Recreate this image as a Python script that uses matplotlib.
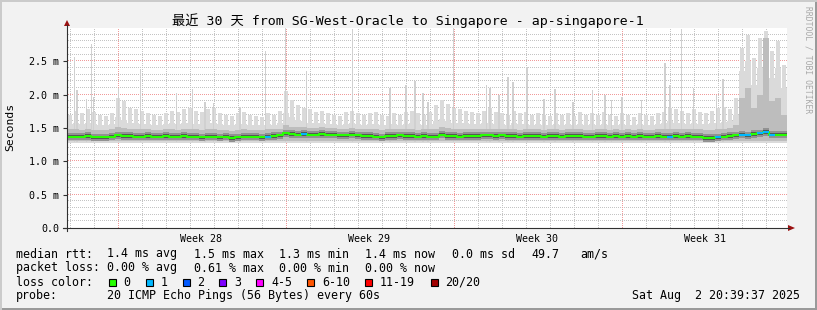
import matplotlib
matplotlib.use('Agg')
import matplotlib.pyplot as plt
import numpy as np
from matplotlib.patches import Rectangle, Polygon
from matplotlib.lines import Line2D

# ---------------- data (hours since window start, 6-hour bins) ----------------
median_ms = [
 1.37,1.37,1.37,1.38,1.36,1.36,1.36,1.37,1.39,1.38,
 1.38,1.37,1.37,1.38,1.37,1.37,1.38,1.37,1.37,1.38,
 1.37,1.37,1.36,1.37,1.37,1.36,1.37,1.35,1.36,1.37,
 1.37,1.37,1.36,1.37,1.38,1.39,1.42,1.41,1.40,1.41,
 1.40,1.40,1.41,1.40,1.40,1.39,1.39,1.40,1.39,1.38,
 1.38,1.37,1.36,1.38,1.38,1.39,1.38,1.38,1.37,1.38,
 1.37,1.37,1.40,1.38,1.38,1.37,1.38,1.38,1.38,1.39,
 1.39,1.38,1.39,1.38,1.38,1.37,1.38,1.38,1.38,1.37,
 1.38,1.38,1.37,1.38,1.38,1.38,1.37,1.37,1.38,1.38,
 1.37,1.38,1.37,1.38,1.37,1.38,1.37,1.37,1.38,1.37,
 1.37,1.38,1.37,1.38,1.37,1.37,1.35,1.35,1.36,1.37,
 1.38,1.39,1.40,1.39,1.41,1.42,1.44,1.40,1.40,1.40]

loss_count = [0]*120
for _i in (33, 39, 100, 108, 112, 113, 115, 116, 117):
    loss_count[_i] = 1

smoke_mid = [
 1.48,1.48,1.47,1.48,1.47,1.47,1.47,1.48,1.52,1.50,
 1.49,1.48,1.48,1.48,1.47,1.47,1.48,1.48,1.47,1.48,
 1.48,1.48,1.47,1.48,1.48,1.47,1.47,1.46,1.47,1.48,
 1.47,1.47,1.47,1.48,1.48,1.49,1.55,1.52,1.51,1.51,
 1.50,1.50,1.51,1.50,1.50,1.49,1.49,1.50,1.49,1.48,
 1.48,1.48,1.47,1.48,1.48,1.49,1.48,1.48,1.47,1.48,
 1.48,1.49,1.52,1.50,1.49,1.48,1.48,1.48,1.48,1.49,
 1.49,1.48,1.49,1.48,1.48,1.47,1.48,1.48,1.48,1.47,
 1.48,1.48,1.47,1.48,1.48,1.48,1.47,1.47,1.48,1.48,
 1.47,1.48,1.47,1.48,1.47,1.48,1.47,1.47,1.48,1.48,
 1.49,1.49,1.48,1.48,1.48,1.48,1.47,1.47,1.48,1.49,
 1.50,1.55,1.95,2.10,1.80,2.00,2.85,1.90,1.95,1.70]

smoke_p90 = [
 1.56,1.57,1.56,1.58,1.56,1.55,1.55,1.56,1.66,1.62,
 1.58,1.57,1.56,1.56,1.55,1.55,1.56,1.57,1.56,1.57,
 1.58,1.56,1.56,1.57,1.58,1.56,1.55,1.55,1.56,1.56,
 1.55,1.55,1.54,1.56,1.55,1.57,1.72,1.66,1.62,1.60,
 1.58,1.57,1.58,1.56,1.56,1.55,1.56,1.57,1.56,1.55,
 1.56,1.56,1.55,1.55,1.56,1.55,1.56,1.57,1.56,1.55,
 1.56,1.60,1.64,1.60,1.58,1.58,1.57,1.56,1.56,1.57,
 1.58,1.56,1.56,1.55,1.57,1.56,1.56,1.55,1.56,1.55,
 1.55,1.56,1.55,1.56,1.55,1.56,1.55,1.56,1.55,1.56,
 1.55,1.55,1.56,1.55,1.54,1.56,1.55,1.55,1.56,1.57,
 1.60,1.58,1.57,1.56,1.58,1.56,1.56,1.57,1.58,1.59,
 1.60,1.70,2.35,2.50,2.15,2.40,2.70,2.25,2.40,2.10]

smoke_max = [
 1.70,1.75,1.72,1.78,1.74,1.70,1.68,1.72,1.95,1.90,
 1.80,1.78,1.75,1.72,1.70,1.68,1.72,1.76,1.74,1.78,
 1.80,1.76,1.74,1.78,1.80,1.72,1.70,1.68,1.72,1.74,
 1.70,1.68,1.66,1.72,1.70,1.76,2.05,1.92,1.85,1.80,
 1.78,1.74,1.76,1.72,1.70,1.68,1.74,1.76,1.72,1.70,
 1.72,1.74,1.70,1.68,1.72,1.70,1.74,1.76,1.72,1.70,
 1.74,1.85,1.92,1.86,1.80,1.78,1.76,1.74,1.72,1.76,
 1.80,1.74,1.72,1.70,1.76,1.72,1.74,1.70,1.72,1.70,
 1.68,1.72,1.70,1.72,1.68,1.74,1.70,1.72,1.70,1.74,
 1.70,1.68,1.72,1.70,1.66,1.72,1.70,1.68,1.72,1.74,
 1.80,1.78,1.76,1.72,1.78,1.74,1.72,1.76,1.80,1.82,
 1.78,1.95,2.70,2.90,2.55,2.85,2.95,2.65,2.80,2.45]

SMOKE_FLOOR = 1.29

spike_hours = [7.3,10,19.7,24.7,26.3,51.3,73.7,109.7,125.7,138,146.3,173,198.7,218.7,
               239.7,285.3,323,339,348,356,361,386.3,419.7,423,432,441,446,460,477,488,
               506,525.7,538,544.7,555,574.7,598,603,614.3,626.3,649.7,656]
spike_ms = [2.56,2.07,1.93,2.76,1.97,2.10,2.38,2.02,2.08,1.89,1.87,1.82,2.65,3.0,
            2.35,2.99,2.10,2.14,2.20,2.02,1.89,3.0,2.15,2.10,2.0,2.26,2.19,2.42,1.94,2.09,
            1.89,2.07,2.0,1.92,1.97,1.92,2.48,2.15,2.98,2.10,2.0,2.24]

week_labels = ['Week 28', 'Week 29', 'Week 30', 'Week 31']
week_starts = [50.5, 218.5, 386.5, 554.5]
ytick_vals = [0.0, 0.5, 1.0, 1.5, 2.0, 2.5]
ytick_labels = ['0.0', '0.5 m', '1.0 m', '1.5 m', '2.0 m', '2.5 m']

loss_labels = ['0', '1', '2', '3', '4-5', '6-10', '11-19', '20/20']
loss_colors = ['#26ff00', '#00b8ff', '#0059ff', '#7e00ff', '#ff00ff', '#ff5500', '#ff0000', '#a10000']

title = '最近 30 天 from SG-West-Oracle to Singapore - ap-singapore-1'

# ---------------- figure ----------------
W, H = 817, 310
fig = plt.figure(figsize=(W/100, H/100), dpi=100, facecolor='#f2f2f2')

def fx(px):
    return px / W

def fy(py):
    return 1 - py / H

MONO = ['DejaVu Sans Mono', 'Noto Sans CJK SC']

ax = fig.add_axes([fx(67), fy(228), 720 / W, 200 / H])
ax.set_facecolor('white')
ax.set_xlim(0, 720)
ax.set_ylim(0, 3.0)
for s in ax.spines.values():
    s.set_visible(False)

# grid drawn as 1-pixel dots every other pixel
MINOR_C, MAJOR_C = '#c4c4c4', '#f09a9a'
gx = np.arange(0.5, 720, 2.0)
for k in range(1, 30):
    v = k / 10
    major = (k % 5 == 0)
    ax.plot(gx, np.full_like(gx, v), ',', color=MAJOR_C if major else MINOR_C, zorder=0.5)
gy = np.arange(0.0075, 3.0, 0.03)
for k in range(30):
    h = 2.5 + 24 * k
    major = any(abs(h - w) < 0.5 for w in week_starts)
    ax.plot(np.full_like(gy, h), gy, ',', color=MAJOR_C if major else MINOR_C, zorder=0.5)

# smoke
n = len(median_ms)
edges = np.arange(n + 1) * 6.0
med = np.array(median_ms)
def ext(a):
    a = np.asarray(a, dtype=float)
    return np.append(a, a[-1])

LIGHT = '#dadada'
ax.fill_between(edges, SMOKE_FLOOR - 0.01, ext(smoke_p90), step='post', color=LIGHT, lw=0, zorder=1)
ax.bar(edges[:-1] + 3, np.array(smoke_max) - SMOKE_FLOOR, bottom=SMOKE_FLOOR, width=3.5,
       color=LIGHT, lw=0, zorder=1)
ax.bar(spike_hours, np.array(spike_ms) - SMOKE_FLOOR, bottom=SMOKE_FLOOR, width=1.4,
       color='#d0d0d0', lw=0, zorder=1.1)
ax.fill_between(edges, SMOKE_FLOOR + 0.01, ext(smoke_mid), step='post', color='#bdbdbd', lw=0, zorder=2)
ax.fill_between(edges, ext(med - 0.055), ext(med + 0.055), step='post', color='#929292', lw=0, zorder=3)
ax.fill_between(edges, ext(med - 0.025), ext(med + 0.025), step='post', color='#555555', lw=0, zorder=4)

# median line coloured by loss
ax.step(edges, ext(med), where='post', color=loss_colors[0], lw=1.5, zorder=5)
for i, lc in enumerate(loss_count):
    if lc > 0:
        ax.hlines(med[i], edges[i], edges[i + 1], color=loss_colors[1], lw=1.5, zorder=6)

# ticks
ax.set_yticks(ytick_vals)
ax.set_yticklabels(ytick_labels, fontfamily='DejaVu Sans Mono', fontsize=7.2)
ax.tick_params(axis='y', length=3, width=0.8, color='#303030', pad=2.5)
ax.set_xticks([w + 84 for w in week_starts])
ax.set_xticklabels(week_labels, fontfamily='DejaVu Sans Mono', fontsize=7.2)
ax.tick_params(axis='x', length=0, pad=4)

# axis lines and arrows
fig.add_artist(Line2D([fx(67), fx(67)], [fy(231), fy(25)], transform=fig.transFigure, color='#303030', lw=0.8))
fig.add_artist(Line2D([fx(63), fx(789)], [fy(228), fy(228)], transform=fig.transFigure, color='#303030', lw=0.8))
fig.add_artist(Polygon([[fx(64), fy(26)], [fx(70), fy(26)], [fx(67), fy(20)]], closed=True,
                       transform=fig.transFigure, color='#9b1010', lw=0))
fig.add_artist(Polygon([[fx(788), fy(225)], [fx(788), fy(231)], [fx(795), fy(228)]], closed=True,
                       transform=fig.transFigure, color='#9b1010', lw=0))

# title, y label, watermark
fig.text(fx(408), fy(21), title, ha='center', va='center', fontsize=9.5, family=MONO)
fig.text(fx(10), fy(127), 'Seconds', ha='center', va='center', rotation=90, fontsize=8.2, family=MONO)
fig.text(fx(808), fy(60), 'RRDTOOL / TOBI OETIKER', ha='center', va='center', rotation=270,
         fontsize=5.8, family=MONO, color='#a8a8a8')

# legend
FS = 8.4
def t(x, y, s):
    fig.text(fx(x), fy(y), s, ha='left', va='center', fontsize=FS, family=MONO)

t(16, 254, 'median rtt:')
t(107, 254, '1.4 ms avg')
t(194, 254, '1.5 ms max')
t(279, 254, '1.3 ms min')
t(365, 254, '1.4 ms now')
t(452, 254, '0.0 ms sd')
t(531, 254, '49.7')
t(580, 254, 'am/s')

t(16, 268, 'packet loss:')
t(107, 268, '0.00 % avg')
t(194, 268, '0.61 % max')
t(279, 268, '0.00 % min')
t(365, 268, '0.00 % now')

t(16, 282, 'loss color:')
sq_x = [109, 146, 183, 219, 256, 307, 365, 431]
lab_x = [123, 161, 197, 234, 271, 322, 380, 445]
for sx, lx, c, lab in zip(sq_x, lab_x, loss_colors, loss_labels):
    fig.add_artist(Rectangle((fx(sx), fy(286)), 7 / W, 7 / H, transform=fig.transFigure,
                             facecolor=c, edgecolor='black', lw=0.8))
    t(lx, 282, lab)

t(16, 296, 'probe:')
t(107, 296, '20 ICMP Echo Pings (56 Bytes) every 60s')
fig.text(fx(800), fy(296), 'Sat Aug  2 20:39:37 2025', ha='right', va='center', fontsize=FS, family=MONO)

# frame shading
fig.add_artist(Rectangle((0, 0), 1, 2 / H, transform=fig.transFigure, color='#9a9a9a', lw=0))
fig.add_artist(Rectangle((1 - 2 / W, 0), 2 / W, 1, transform=fig.transFigure, color='#9a9a9a', lw=0))
fig.add_artist(Rectangle((0, 1 - 2 / H), 1, 2 / H, transform=fig.transFigure, color='#cbcbcb', lw=0))
fig.add_artist(Rectangle((0, 0), 2 / W, 1, transform=fig.transFigure, color='#cbcbcb', lw=0))

fig.savefig('out.png', dpi=100, facecolor=fig.get_facecolor())
